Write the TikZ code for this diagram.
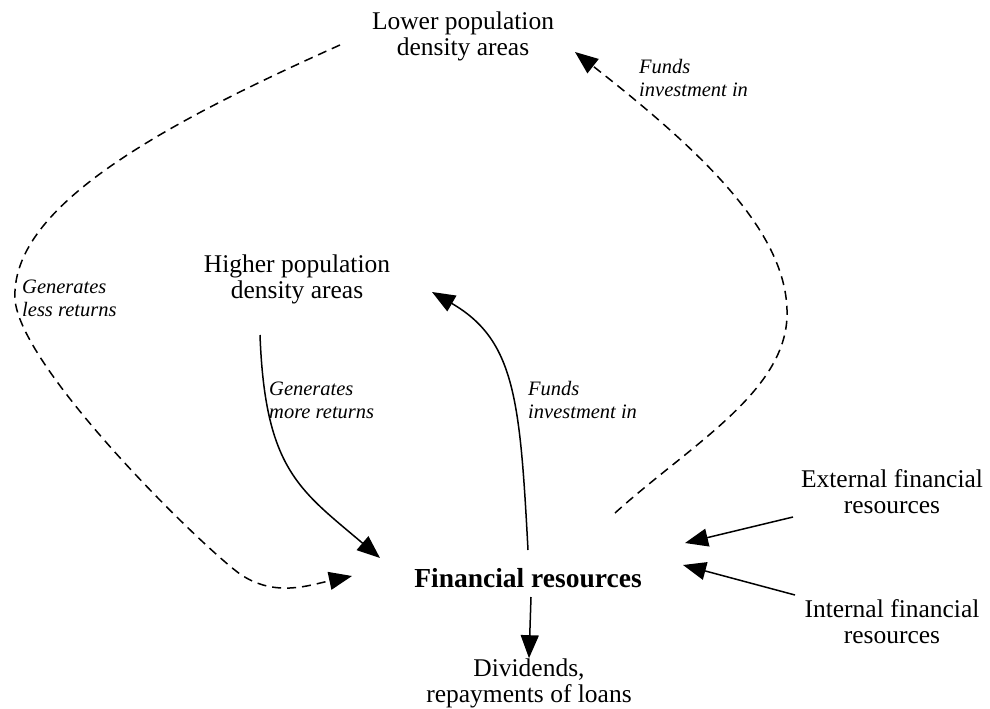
\documentclass[tikz,border=0pt]{standalone}
\usepackage{fontspec}
\setmainfont{Liberation Serif}
\usetikzlibrary{arrows.meta}
\newcommand\mainsz{\fontsize{25.5}{26}\selectfont}
\newcommand\lblsz{\fontsize{20.5}{23}\selectfont}
\tikzset{
  place/.style={align=center,font=\mainsz,inner sep=0pt},
  lbl/.style={anchor=west,align=left,font=\lblsz\itshape,inner sep=0pt},
  arr/.style={line width=1.5pt,-{Triangle[length=23pt,width=18pt]}},
  darr/.style={arr,dash pattern=on 9pt off 6pt}
}
\begin{document}
\begin{tikzpicture}[x=1pt,y=-1pt]
\useasboundingbox (0,0) rectangle (990,709);

\node[place] (lowdens) at (463,36) {Lower population\\density areas};
\node[place] (highdens) at (297,279) {Higher population\\density areas};
\node[place,font=\fontsize{27.5}{30}\selectfont\bfseries] (finres) at (528,578) {Financial resources};
\node[place] (divid) at (529,683) {Dividends,\\repayments of loans};
\node[place] (extres) at (892,492) {External financial\\resources};
\node[place] (intres) at (892,622) {Internal financial\\resources};

\node[lbl] (lessret) at (22,298) {Generates\\less returns};
\node[lbl] (moreret) at (269,400) {Generates\\more returns};
\node[lbl] (fundhigh) at (528,400) {Funds\\investment in};
\node[lbl] (fundlow) at (639,78) {Funds\\investment in};

% free ends
\coordinate (lowout) at (340,45);
\coordinate (lowin) at (575,52);
\coordinate (highout) at (260,335);
\coordinate (highin) at (432,292);
\coordinate (finin1) at (352,576);
\coordinate (finin2) at (380,558);
\coordinate (finout1) at (528,550);
\coordinate (finout2) at (615,513);
\coordinate (finout3) at (531,597);
\coordinate (extin) at (685,543);
\coordinate (intin) at (683,565);
\coordinate (extout) at (793,517);
\coordinate (intout) at (795,595);

\draw[darr] (lowout) .. controls (150,130) and (10,210) .. (15,300)
  .. controls (22,370) and (200,545) .. (240,574)
  .. controls (275,598) and (310,585) .. (finin1);
\draw[darr] (finout2) .. controls (690,445) and (790,390) .. (787,310)
  .. controls (785,230) and (700,150) .. (lowin);
\draw[arr] (highout) .. controls (265,470) and (300,490) .. (finin2);
\draw[arr] (finout1) .. controls (520,400) and (515,340) .. (highin);
\draw[arr] (finout3) -- (divid.north);
\draw[arr] (extout) -- (extin);
\draw[arr] (intout) -- (intin);
\end{tikzpicture}
\end{document}
